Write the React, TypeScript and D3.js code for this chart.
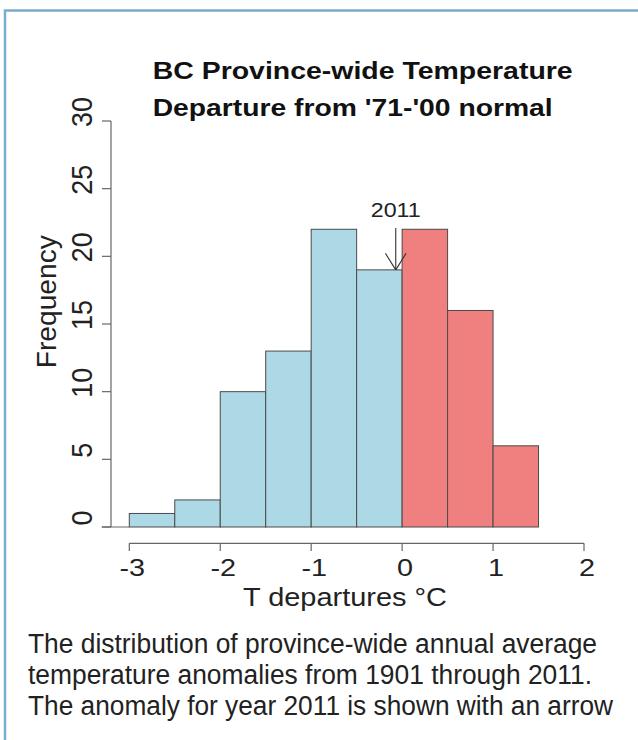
import React from "react";
import * as d3 from "d3";

const binEdges = [-3, -2.5, -2, -1.5, -1, -0.5, 0, 0.5, 1, 1.5];
const counts = [1, 2, 10, 13, 22, 19, 22, 16, 6];
const yTicks = [0, 5, 10, 15, 20, 25, 30];
const xTicks = [-3, -2, -1, 0, 1, 2];
const titleLines = ["BC Province-wide Temperature", "Departure from '71-'00 normal"];
const arrowYear = "2011";
const arrowValue = -0.07;
const arrowFrom = 22.1;
const arrowTo = 19;
const yLabel = "Frequency";
const xLabel = "T departures \u00B0C";
const captionLines = [
  "The distribution of province-wide annual average",
  "temperature anomalies from 1901 through 2011.",
  "The anomaly for year 2011 is shown with an arrow",
];

const FONT = "'Liberation Sans', Arial, Helvetica, sans-serif";

export default function App() {
  const W = 638;
  const H = 740;
  const x = d3.scaleLinear().domain([-3, 2]).range([129.3, 584]);
  const y = d3.scaleLinear().domain([0, 30]).range([527, 121]);
  const axisColor = "#666";

  const bins = counts.map((c, i) => ({ x0: binEdges[i], x1: binEdges[i + 1], c }));

  const ax = x(arrowValue);
  const ay0 = y(arrowFrom);
  const ay1 = y(arrowTo);
  const headLen = 19.5;
  const ang = (32 * Math.PI) / 180;

  const titleLens = [420, 400];
  const captionLens = [569, 564, 585];
  const captionY = [653, 684, 715];

  return (
    <svg
      width={W}
      height={H}
      style={{ position: "absolute", left: 0, top: 0, background: "#fff" }}
      fontFamily={FONT}
    >
      <rect x={0} y={0} width={W} height={H} fill="#fff" />
      {/* frame */}
      <rect x={5} y={10.5} width={W + 20} height={H + 20} fill="none" stroke="#7aaccb" strokeWidth={2.5} />

      {/* title */}
      {titleLines.map((t, i) => (
        <text
          key={t}
          x={152.7}
          y={78.5 + i * 37}
          fontSize={24.5}
          fontWeight="bold"
          fill="#111"
          textLength={titleLens[i]}
          lengthAdjust="spacingAndGlyphs"
        >
          {t}
        </text>
      ))}

      {/* bars */}
      {bins.map((b, i) => (
        <rect
          key={i}
          x={x(b.x0)}
          y={y(b.c)}
          width={x(b.x1) - x(b.x0)}
          height={y(0) - y(b.c)}
          fill={b.x0 >= 0 ? "#F08080" : "#ADD8E6"}
          stroke="#4a4a4a"
          strokeWidth={1}
        />
      ))}

      {/* baseline from axis to first bar */}
      <line x1={101.7} x2={x(binEdges[0])} y1={y(0)} y2={y(0)} stroke={axisColor} strokeWidth={1} />

      {/* y axis */}
      <line x1={111} x2={111} y1={y(0)} y2={y(30)} stroke={axisColor} strokeWidth={1.2} />
      {yTicks.map((t) => (
        <g key={t}>
          <line x1={102} x2={111} y1={y(t)} y2={y(t)} stroke={axisColor} strokeWidth={1.2} />
          <text
            transform={`translate(92,${y(t) - 9}) scale(1.12,1) rotate(-90)`}
            textAnchor="middle"
            fontSize={27}
            fill="#222"
          >
            {t}
          </text>
        </g>
      ))}
      <text
        transform={`translate(56,301.7) rotate(-90)`}
        textAnchor="middle"
        fontSize={27}
        fill="#222"
        textLength={133}
        lengthAdjust="spacingAndGlyphs"
      >
        {yLabel}
      </text>

      {/* x axis */}
      <line x1={x(-3)} x2={x(2)} y1={543.3} y2={543.3} stroke={axisColor} strokeWidth={1.2} />
      {xTicks.map((t) => (
        <g key={t}>
          <line x1={x(t)} x2={x(t)} y1={543.3} y2={551} stroke={axisColor} strokeWidth={1.2} />
          <text
            transform={`translate(${x(t) + 3},576) scale(1.2,1)`}
            textAnchor="middle"
            fontSize={24}
            fill="#222"
          >
            {t}
          </text>
        </g>
      ))}
      <text
        x={345}
        y={606}
        textAnchor="middle"
        fontSize={26.5}
        fill="#222"
        textLength={204}
        lengthAdjust="spacingAndGlyphs"
      >
        {xLabel}
      </text>

      {/* 2011 arrow */}
      <line x1={ax} x2={ax} y1={ay0} y2={ay1} stroke="#333" strokeWidth={1.1} />
      <line
        x1={ax - headLen * Math.sin(ang)}
        y1={ay1 - headLen * Math.cos(ang)}
        x2={ax}
        y2={ay1}
        stroke="#333"
        strokeWidth={1.1}
      />
      <line
        x1={ax + headLen * Math.sin(ang)}
        y1={ay1 - headLen * Math.cos(ang)}
        x2={ax}
        y2={ay1}
        stroke="#333"
        strokeWidth={1.1}
      />
      <text
        x={ax}
        y={216.7}
        textAnchor="middle"
        fontSize={19.5}
        fill="#222"
        textLength={50}
        lengthAdjust="spacingAndGlyphs"
      >
        {arrowYear}
      </text>

      {/* caption */}
      {captionLines.map((t, i) => (
        <text
          key={t}
          x={28}
          y={captionY[i]}
          fontSize={27}
          fill="#222"
          textLength={captionLens[i]}
          lengthAdjust="spacingAndGlyphs"
        >
          {t}
        </text>
      ))}
    </svg>
  );
}
